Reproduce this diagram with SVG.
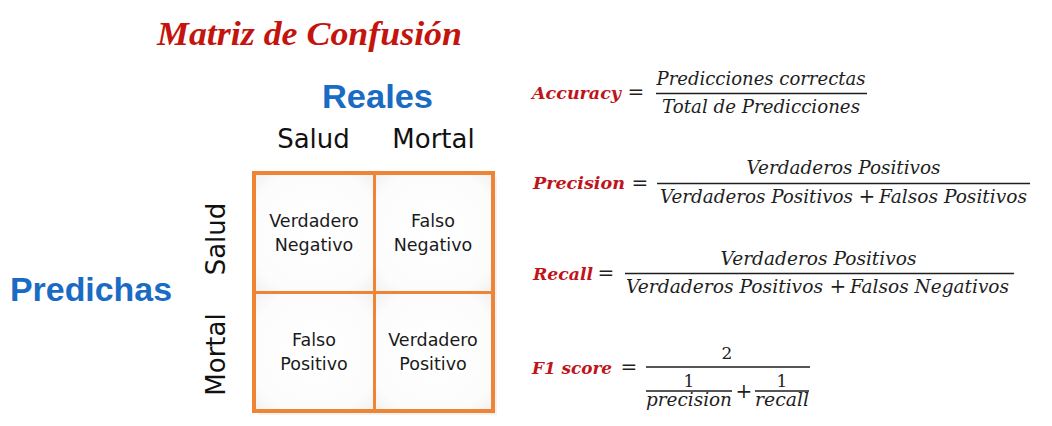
<svg xmlns="http://www.w3.org/2000/svg" width="1052" height="426" viewBox="0 0 1052 426">
  <defs>
    <radialGradient id="cellFill" cx="50%" cy="50%" r="72%">
      <stop offset="0" stop-color="#ffffff"/>
      <stop offset="0.75" stop-color="#fcfcfc"/>
      <stop offset="1" stop-color="#efefef"/>
    </radialGradient>
  </defs>
  <style>
    .title { font-family: "Liberation Serif", serif; font-weight: bold; font-style: italic; font-size: 33px; fill: #c3150e; }
    .axis { font-family: "Liberation Sans", Arial, sans-serif; font-weight: bold; font-size: 34px; fill: #1a6bc4; }
    .cls { font-family: "DejaVu Sans", sans-serif; font-size: 26px; fill: #111111; text-anchor: middle; }
    .cell { font-family: "DejaVu Sans", sans-serif; font-size: 17.5px; fill: #1a1a1a; text-anchor: middle; }
    .frame { fill: none; stroke: #ef8534; stroke-width: 4; }
    .div { stroke: #ef8534; stroke-width: 3; }
    .lbl { font-family: "DejaVu Serif", serif; font-weight: bold; font-style: italic; font-size: 17.5px; fill: #c0141b; }
    .math { font-family: "DejaVu Serif", serif; font-style: italic; font-size: 18.5px; fill: #1e1e1e; text-anchor: middle; }
    .op { font-family: "DejaVu Serif", serif; font-size: 20px; fill: #1e1e1e; text-anchor: middle; }
    .num { font-family: "DejaVu Serif", serif; font-size: 17px; fill: #1e1e1e; text-anchor: middle; }
    .bar { stroke: #1e1e1e; stroke-width: 1.3; }
  </style>

  <rect width="1052" height="426" fill="#ffffff"/>

  <!-- heading -->
  <g id="title">
    <text class="title" x="157" y="45" textLength="305" lengthAdjust="spacingAndGlyphs">Matriz de Confusión</text>
  </g>

  <!-- axis captions -->
  <g id="axis-reales">
    <text class="axis" x="322" y="108" textLength="111" lengthAdjust="spacingAndGlyphs">Reales</text>
    <text class="cls" x="313.5" y="148">Salud</text>
    <text class="cls" x="433.5" y="148">Mortal</text>
  </g>
  <g id="axis-predichas">
    <text class="axis" x="10" y="301" textLength="162" lengthAdjust="spacingAndGlyphs">Predichas</text>
    <text class="cls" x="225" y="239" transform="rotate(-90 225 239)">Salud</text>
    <text class="cls" x="225" y="354.5" transform="rotate(-90 225 354.5)">Mortal</text>
  </g>

  <!-- confusion matrix -->
  <g id="matrix">
    <rect x="258" y="177" width="239" height="238" fill="#e9e9e9" opacity="0.6"/>
    <rect x="254" y="173" width="120.5" height="119.5" fill="url(#cellFill)"/>
    <rect x="374.5" y="173" width="118.5" height="119.5" fill="url(#cellFill)"/>
    <rect x="254" y="292.5" width="120.5" height="118.5" fill="url(#cellFill)"/>
    <rect x="374.5" y="292.5" width="118.5" height="118.5" fill="url(#cellFill)"/>
    <line class="div" x1="374.5" y1="173" x2="374.5" y2="411"/>
    <line class="div" x1="254" y1="292.5" x2="493" y2="292.5"/>
    <rect class="frame" x="254" y="173" width="239" height="238"/>
  </g>
  <g id="cell-vn">
    <text class="cell" x="314" y="227">Verdadero</text>
    <text class="cell" x="314" y="251">Negativo</text>
  </g>
  <g id="cell-fn">
    <text class="cell" x="433" y="227">Falso</text>
    <text class="cell" x="433" y="251">Negativo</text>
  </g>
  <g id="cell-fp">
    <text class="cell" x="314" y="346">Falso</text>
    <text class="cell" x="314" y="370">Positivo</text>
  </g>
  <g id="cell-vp">
    <text class="cell" x="433" y="346">Verdadero</text>
    <text class="cell" x="433" y="370">Positivo</text>
  </g>

  <!-- metric formulas -->
  <g id="accuracy">
    <text class="lbl" x="532" y="99" textLength="89" lengthAdjust="spacingAndGlyphs">Accuracy</text>
    <text class="op" x="636" y="99">=</text>
    <text class="math" x="761" y="85" textLength="209" lengthAdjust="spacingAndGlyphs">Predicciones correctas</text>
    <line class="bar" x1="656" y1="93.5" x2="867" y2="93.5"/>
    <text class="math" x="761" y="113" textLength="198" lengthAdjust="spacingAndGlyphs">Total de Predicciones</text>
  </g>

  <g id="precision">
    <text class="lbl" x="533" y="189" textLength="92" lengthAdjust="spacingAndGlyphs">Precision</text>
    <text class="op" x="640" y="190">=</text>
    <text class="math" x="843.5" y="174" textLength="194" lengthAdjust="spacingAndGlyphs">Verdaderos Positivos</text>
    <line class="bar" x1="657" y1="183.5" x2="1030" y2="183.5"/>
    <text class="math" x="756.5" y="203" textLength="193" lengthAdjust="spacingAndGlyphs">Verdaderos Positivos</text>
    <text class="op" x="867" y="203" font-size="19">+</text>
    <text class="math" x="953" y="203" textLength="148" lengthAdjust="spacingAndGlyphs">Falsos Positivos</text>
  </g>

  <g id="recall">
    <text class="lbl" x="533" y="280" textLength="60" lengthAdjust="spacingAndGlyphs">Recall</text>
    <text class="op" x="606" y="280">=</text>
    <text class="math" x="818.5" y="265" textLength="196" lengthAdjust="spacingAndGlyphs">Verdaderos Positivos</text>
    <line class="bar" x1="625" y1="273.5" x2="1014" y2="273.5"/>
    <text class="math" x="724.5" y="293" textLength="197" lengthAdjust="spacingAndGlyphs">Verdaderos Positivos</text>
    <text class="op" x="838" y="293" font-size="19">+</text>
    <text class="math" x="929.5" y="293" textLength="159" lengthAdjust="spacingAndGlyphs">Falsos Negativos</text>
  </g>

  <g id="f1-score">
    <text class="lbl" x="532" y="374" textLength="80" lengthAdjust="spacingAndGlyphs">F1 score</text>
    <text class="op" x="629" y="374">=</text>
    <text class="num" x="727" y="359">2</text>
    <line class="bar" x1="646" y1="367" x2="810" y2="367"/>
    <text class="num" x="689" y="387">1</text>
    <line class="bar" x1="646" y1="391" x2="732" y2="391"/>
    <text class="math" x="689" y="406" font-size="18" textLength="86" lengthAdjust="spacingAndGlyphs">precision</text>
    <text class="op" x="744" y="398" font-size="19">+</text>
    <text class="num" x="782" y="387">1</text>
    <line class="bar" x1="755" y1="391" x2="809" y2="391"/>
    <text class="math" x="782" y="406" font-size="18" textLength="54" lengthAdjust="spacingAndGlyphs">recall</text>
  </g>
</svg>
